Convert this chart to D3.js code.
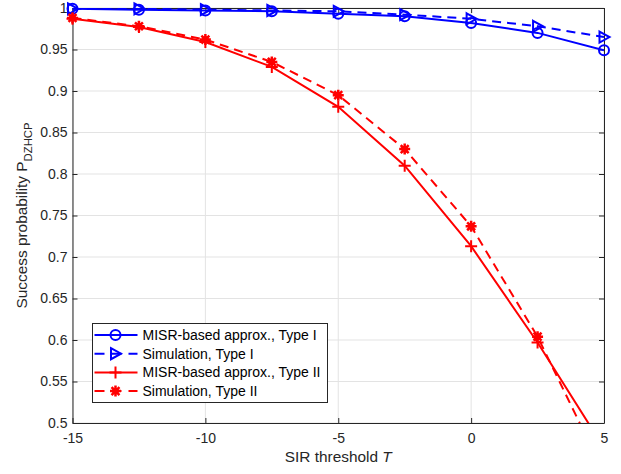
<!DOCTYPE html>
<html>
<head>
<meta charset="utf-8">
<script src="https://cdn.jsdelivr.net/npm/d3@7"></script>
<style>
  body { margin: 0; background: #fff; }
  svg { display: block; font-family: "Liberation Sans", Arial, Helvetica, sans-serif; }
</style>
</head>
<body>
<svg id="chart" width="621" height="474"></svg>
<script>
// SIR thresholds (dB)
const thresholds = [-15, -12.5, -10, -7.5, -5, -2.5, 0, 2.5, 5];
// Success probability, Type I
const misrTypeI = [0.999, 0.998, 0.997, 0.996, 0.993, 0.990, 0.982, 0.970, 0.949];
const simTypeI  = [0.999, 0.999, 0.998, 0.997, 0.996, 0.992, 0.987, 0.978, 0.965];
// Success probability, Type II
const misrTypeII = [0.987, 0.977, 0.959, 0.929, 0.881, 0.810, 0.713, 0.597, 0.470];
const simTypeII  = [0.988, 0.978, 0.962, 0.935, 0.895, 0.830, 0.737, 0.604, 0.440];

const xTicks = [-15, -10, -5, 0, 5];
const yTicks = [0.5, 0.55, 0.6, 0.65, 0.7, 0.75, 0.8, 0.85, 0.9, 0.95, 1];

const series = [
  { name: "MISR-based approx., Type I",  values: misrTypeI,  color: "#0000ff", dash: null,  marker: "circle" },
  { name: "Simulation, Type I",          values: simTypeI,   color: "#0000ff", dash: "9,6", marker: "triangle" },
  { name: "MISR-based approx., Type II", values: misrTypeII, color: "#ff0000", dash: null,  marker: "plus" },
  { name: "Simulation, Type II",         values: simTypeII,  color: "#ff0000", dash: "9,6", marker: "asterisk" }
];

const svg = d3.select("#chart");
const m = { left: 72.5, right: 17, top: 8, bottom: 51 };
const W = 621, H = 474;
const x = d3.scaleLinear().domain([-15, 5]).range([m.left, W - m.right]);
const y = d3.scaleLinear().domain([0.5, 1]).range([H - m.bottom, m.top]);

const axisColor = "#262626";
const gridColor = "#e3e3e3";

// grid
const grid = svg.append("g");
grid.selectAll(".gx").data(xTicks).join("line")
  .attr("x1", d => x(d)).attr("x2", d => x(d))
  .attr("y1", y(0.5)).attr("y2", y(1))
  .attr("stroke", gridColor).attr("stroke-width", 1);
grid.selectAll(".gy").data(yTicks).join("line")
  .attr("x1", x(-15)).attr("x2", x(5))
  .attr("y1", d => y(d)).attr("y2", d => y(d))
  .attr("stroke", gridColor).attr("stroke-width", 1);

// axes (ticks point inward, mirrored on top/right)
function styleAxis(g) {
  g.selectAll("path").attr("stroke", axisColor).attr("stroke-width", 1);
  g.selectAll("line").attr("stroke", axisColor).attr("stroke-width", 1);
  g.selectAll("text").attr("fill", axisColor).attr("font-size", 14);
}
// plain hyphen for negatives
const fmt = d => String(+d.toFixed(2));
svg.append("g").attr("transform", `translate(0,${y(0.5)})`)
  .call(d3.axisBottom(x).tickValues(xTicks).tickSizeInner(-5).tickSizeOuter(0).tickPadding(10).tickFormat(fmt))
  .call(styleAxis);
svg.append("g").attr("transform", `translate(${x(-15)},0)`)
  .call(d3.axisLeft(y).tickValues(yTicks).tickSizeInner(-5).tickSizeOuter(0).tickPadding(5).tickFormat(fmt))
  .call(styleAxis);
svg.append("g").attr("transform", `translate(0,${y(1)})`)
  .call(d3.axisTop(x).tickValues(xTicks).tickSizeInner(-5).tickSizeOuter(0).tickFormat(""))
  .call(styleAxis);
svg.append("g").attr("transform", `translate(${x(5)},0)`)
  .call(d3.axisRight(y).tickValues(yTicks).tickSizeInner(-5).tickSizeOuter(0).tickFormat(""))
  .call(styleAxis);

// clip for lines
svg.append("clipPath").attr("id", "plotClip").append("rect")
  .attr("x", x(-15)).attr("y", y(1)).attr("width", x(5) - x(-15)).attr("height", y(0.5) - y(1));

// marker drawing
function drawMarker(g, type, cx, cy, color) {
  const s = g.append("g").attr("transform", `translate(${cx},${cy})`)
    .attr("fill", "none").attr("stroke", color).attr("stroke-width", 2);
  if (type === "circle") {
    s.append("circle").attr("r", 5);
  } else if (type === "triangle") {
    s.append("path").attr("d", "M-4.5,-5.5L5.5,0L-4.5,5.5Z");
  } else if (type === "plus") {
    s.append("path").attr("d", "M-6,0H6M0,-6V6");
  } else if (type === "asterisk") {
    const r = 5.5;
    const k = r * 0.72;
    const d = `M${-r},0H${r}M0,${-r}V${r}M${-k},${-k}L${k},${k}M${-k},${k}L${k},${-k}`;
    s.append("path").attr("d", d).attr("stroke-width", 2.5);
    s.append("circle").attr("r", 3.2).attr("fill", color).attr("stroke", "none");
  }
}

const line = d3.line().x(d => x(d[0])).y(d => y(d[1]));
const plot = svg.append("g");
series.forEach(s => {
  const pts = thresholds.map((t, i) => [t, s.values[i]]);
  plot.append("path").attr("d", line(pts))
    .attr("clip-path", "url(#plotClip)")
    .attr("fill", "none").attr("stroke", s.color).attr("stroke-width", 2)
    .attr("stroke-dasharray", s.dash);
  pts.filter(p => p[1] >= 0.5 && p[1] <= 1).forEach(p => drawMarker(plot, s.marker, x(p[0]), y(p[1]), s.color));
});

// axis titles
svg.append("text").attr("x", (x(-15) + x(5)) / 2).attr("y", 462)
  .attr("text-anchor", "middle").attr("font-size", 15.4).attr("fill", axisColor)
  .html('SIR threshold <tspan font-style="italic">T</tspan>');
const yl = svg.append("text").attr("transform", `translate(26.5,${(y(0.5) + y(1)) / 2}) rotate(-90)`)
  .attr("text-anchor", "middle").attr("font-size", 15.4).attr("fill", axisColor);
yl.append("tspan").text("Success probability P");
yl.append("tspan").attr("font-size", 11.3).attr("dy", 5).text("DZHCP");

// legend
const lg = svg.append("g");
const lx = 92.5, ly = 323.5, lw = 235, lh = 79;
lg.append("rect").attr("x", lx).attr("y", ly).attr("width", lw).attr("height", lh)
  .attr("fill", "#fff").attr("stroke", axisColor).attr("stroke-width", 1);
series.forEach((s, i) => {
  const cy = ly + 11.5 + i * 18.7;
  lg.append("line").attr("x1", lx + 2).attr("x2", lx + 45).attr("y1", cy).attr("y2", cy)
    .attr("stroke", s.color).attr("stroke-width", 2)
    .attr("stroke-dasharray", s.dash ? "10,7" : null);
  drawMarker(lg, s.marker, lx + 23, cy, s.color);
  lg.append("text").attr("x", lx + 50).attr("y", cy + 5).attr("font-size", 14)
    .attr("fill", "#000").text(s.name);
});
</script>
</body>
</html>
